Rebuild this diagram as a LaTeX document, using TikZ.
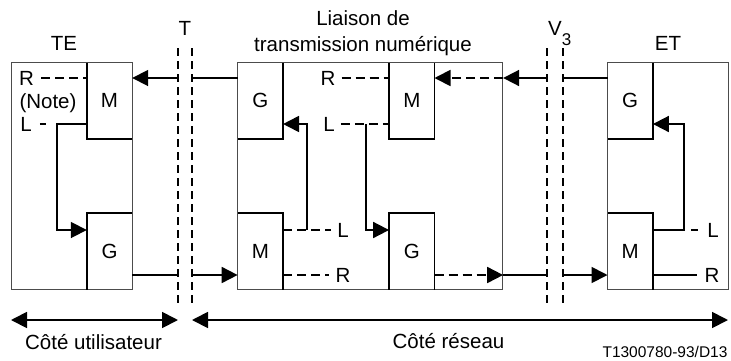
\documentclass[tikz,border=0pt]{standalone}
\usepackage{fontspec}
\setmainfont{Liberation Sans}
\usetikzlibrary{arrows.meta}
\begin{document}
\begin{tikzpicture}[x=1pt,y=-1pt,
  every node/.style={font=\fontsize{20.5}{26}\selectfont, inner sep=0pt},
  frame/.style={draw=black!70, line width=0.9pt},
  inbox/.style={minimum width=45pt, minimum height=76pt},
  sig/.style={line width=1.8pt},
  dsh/.style={sig, dash pattern=on 9pt off 5pt},
  arr/.style={-{Triangle[length=16pt,width=16pt]}},
  darr/.style={{Triangle[length=16pt,width=16pt]}-{Triangle[length=16pt,width=16pt]}},
  tline/.style={line width=1.8pt, dash pattern=on 8pt off 5pt}
]
\useasboundingbox (0,0) rectangle (731,360);

% frames
\node[frame, minimum width=121pt, minimum height=226.5pt] (te) at (71.5,175.75) {};
\node[frame, minimum width=265pt, minimum height=226.5pt] (lia) at (370.2,175.75) {};
\node[frame, minimum width=120.6pt, minimum height=226.5pt] (et) at (668,175.75) {};

% inner blocks
\node[inbox] (tem) at (109.5,100.75) {M};
\node[inbox] (teg) at (109.5,251.35) {G};
\node[inbox] (lgt) at (260.35,100.75) {G};
\node[inbox] (lmt) at (411.8,100.75) {M};
\node[inbox] (lmb) at (260.35,251.35) {M};
\node[inbox] (lgb) at (411.8,251.35) {G};
\node[inbox] (etg) at (630.2,100.75) {G};
\node[inbox] (etm) at (630.2,251.35) {M};

\draw[sig] (tem.north west) -- (tem.south west) -- (tem.south east);
\draw[sig] (teg.south west) -- (teg.north west) -- (teg.north east);
\draw[sig] (lgt.north east) -- (lgt.south east) -- (lgt.south west);
\draw[sig] (lmt.north west) -- (lmt.south west) -- (lmt.south east) -- (lmt.north east);
\draw[sig] (lmb.south east) -- (lmb.north east) -- (lmb.north west);
\draw[sig] (lgb.south west) -- (lgb.north west) -- (lgb.north east) -- (lgb.south east);
\draw[sig] (etg.north east) -- (etg.south east) -- (etg.south west);
\draw[sig] (etm.south east) -- (etm.north east) -- (etm.north west);

% interface dashed lines
\coordinate (Ta) at (178,48); \coordinate (Ta2) at (178,304);
\coordinate (Tb) at (192,48); \coordinate (Tb2) at (192,304);
\coordinate (Va) at (546.7,48); \coordinate (Va2) at (546.7,304);
\coordinate (Vb) at (562.7,48); \coordinate (Vb2) at (562.7,304);
\draw[tline] (Ta) -- (Ta2);
\draw[tline] (Tb) -- (Tb2);
\draw[tline] (Va) -- (Va2);
\draw[tline] (Vb) -- (Vb2);

% y levels
\coordinate (yR1) at (0,78);
\coordinate (yL1) at (0,124);
\coordinate (yL2) at (0,230);
\coordinate (yR2) at (0,275);

% labels
\node (tlab) at (185,28) {T};
\node (telab) at (64,43) {TE};
\node (etlab) at (668,43) {ET};
\node[align=center] (lialab) at (363,33) {Liaison de\\transmission numérique};
\node[anchor=base west] (v3lab) at (548,35.5) {V\raisebox{-9.5pt}{\fontsize{17}{17}\selectfont 3}};

% top path network -> user
\draw[sig] (etg.west |- yR1) -- (Vb |- yR1);
\draw[sig,arr] (Va |- yR1) -- (lia.east |- yR1);
\draw[dsh,arr] (lia.east |- yR1) -- (lmt.east |- yR1);
\draw[sig] (lgt.west |- yR1) -- (Tb |- yR1);
\draw[sig,arr] (Ta |- yR1) -- (tem.east |- yR1);

% TE side
\node (Rte) at (26.5,78) {R};
\node (note) at (48,103) {(Note)};
\node (Lte) at (26,124) {L};
\draw[dsh] ([xshift=7pt]Rte.east) -- (tem.west |- yR1);
\draw[sig] ([xshift=8pt]Lte.east) -- ++(6,0);
\coordinate (teL) at (57,124);
\coordinate (teL2) at (57,230);
\draw[sig,arr] (tem.west |- yL1) -- (teL) -- (teL2) -- (teg.west |- yL2);
\draw[sig] (teg.east |- yR2) -- (Ta |- yR2);
\draw[sig,arr] (Tb |- yR2) -- (lmb.west |- yR2);

% Liaison internal
\node (Rlt) at (328,78) {R};
\node (Llt) at (329,124) {L};
\node (Llb) at (343,230) {L};
\node (Rlb) at (343,275) {R};
\draw[dsh] ([xshift=6pt]Rlt.east) -- (lmt.west |- yR1);
\draw[dsh] ([xshift=6pt]Llt.east) -- (lmt.west |- yL1);
\draw[dsh] (lmb.east |- yL2) -- ([xshift=-6pt]Llb.west);
\draw[dsh] (lmb.east |- yR2) -- ([xshift=-6pt]Rlb.west);
\coordinate (la) at (307,124); \coordinate (la2) at (307,230);
\draw[sig,arr] (la2) -- (la) -- (lgt.east |- la);
\coordinate (lb) at (366,124); \coordinate (lb2) at (366,230);
\draw[sig,arr] (lb) -- (lb2) -- (lgb.west |- lb2);
\draw[dsh,arr] (lgb.east |- yR2) -- (lia.east |- yR2);
\draw[sig] (lia.east |- yR2) -- (Va |- yR2);
\draw[sig,arr] (Vb |- yR2) -- (etm.west |- yR2);

% ET side
\node (Let) at (713,230) {L};
\node (Ret) at (712,275) {R};
\coordinate (ea) at (684,124); \coordinate (ea2) at (684,230);
\draw[sig,arr] (etm.east |- ea2) -- (ea2) -- (ea) -- (etg.east |- ea);
\draw[sig] ([xshift=7pt]ea2) -- ++(7,0);
\draw[sig] (etm.east |- yR2) -- ([xshift=-7pt]Ret.west);

% bottom arrows
\coordinate (bl1) at (11,320); \coordinate (bl2) at (178,320);
\coordinate (br1) at (192,320); \coordinate (br2) at (728,320);
\draw[sig,darr] (bl1) -- (bl2);
\draw[sig,darr] (br1) -- (br2);
\node (cu) at (93.5,342) {Côté utilisateur};
\node (cr) at (448.5,341) {Côté réseau};
\node[font=\fontsize{15.5}{18}\selectfont] (code) at (665,352) {T1300780-93/D13};
\end{tikzpicture}
\end{document}
